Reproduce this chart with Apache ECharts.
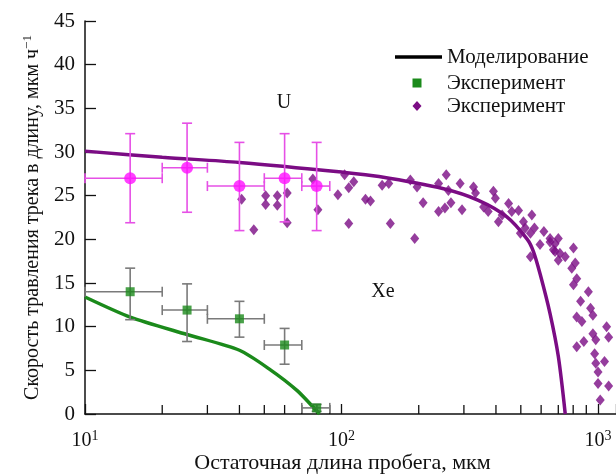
<!DOCTYPE html>
<html>
<head>
<meta charset="utf-8">
<script src="https://cdn.jsdelivr.net/npm/echarts@6/dist/echarts.min.js"></script>
<style>
  html, body { margin: 0; padding: 0; background: #fff; }
  #chart { width: 616px; height: 474px; }
</style>
</head>
<body>
<div id="chart"></div>
<script>
// Residual range (µm) vs. track etch rate (µm/h)
const xMinorTicks = [20, 30, 40, 50, 60, 70, 80, 90, 200, 300, 400, 500, 600, 700, 800, 900];
const yTicks = [0, 5, 10, 15, 20, 25, 30, 35, 40, 45];

// Simulation curves [range, rate]
const uModel = [[10, 30.1], [20, 29.4], [40, 28.8], [100, 27.7], [140, 27.2], [250, 25.8],
  [340, 24.5], [440, 22.6], [530, 20.0], [560, 18.6], [595, 16.0], [650, 11.5], [700, 6.6], [745, 0]];
const xeModel = [[10, 13.4], [15, 11.1], [25, 9.1], [40, 7.3], [52, 5.2], [67, 2.7], [82, 0]];

// Averaged experimental points with error ranges
const uExp = [[15, 27.0], [25, 28.2], [40, 26.1], [60, 27.0], [80, 26.1]];
const uExpX = [[10, 20], [20, 30], [30, 50], [50, 70], [70, 90]];
const uExpY = [[21.9, 32.1], [23.1, 33.3], [21.0, 31.1], [22.0, 32.1], [21.0, 31.1]];

const xeExp = [[15, 14.0], [25, 11.9], [40, 10.9], [60, 7.9], [80, 0.7]];
const xeExpX = [[10, 20], [20, 30], [30, 50], [50, 70], [70, 90]];
const xeExpY = [[10.8, 16.7], [8.3, 14.9], [8.8, 12.9], [5.7, 9.8], [0.3, 1.1]];

// Individual U track measurements
const uTracks = [
  [40.8, 24.6], [45.5, 21.1], [50.6, 25.0], [50.6, 24.0], [56.2, 25.0], [56.2, 23.9], [61.4, 25.3],
  [61.4, 21.9], [77.3, 26.9], [80.9, 23.4], [96.8, 25.1], [102.8, 27.4], [106.7, 25.9], [106.7, 21.8],
  [111.6, 26.6], [124, 24.6], [129.7, 24.4], [144, 26.2], [152.8, 26.4], [155, 21.8], [185.5, 26.8],
  [197, 26.0], [192.9, 20.1], [208, 24.2], [239, 26.4], [256, 27.4], [261, 25.6], [267, 24.2],
  [239, 23.2], [253, 23.6], [295, 23.4], [290, 26.4], [327, 26.0], [333, 25.3], [358, 23.7],
  [373, 23.2], [391, 25.5], [398, 24.7], [409, 22.0], [423, 22.8], [448, 24.1], [461, 23.2],
  [490, 23.3], [512, 22.0], [552, 22.8], [520, 21.3], [545, 20.7], [565, 21.3], [594, 19.4],
  [615, 20.9], [650, 20.1], [680, 19.5], [700, 20.1], [670, 18.8], [710, 18.4], [745, 18.0],
  [802, 19.0], [545, 18.0], [815, 17.3], [498, 20.7], [650, 19.7], [680, 18.6], [700, 17.6],
  [790, 16.7], [826, 15.5], [802, 14.8], [917, 14.0], [855, 12.9], [935, 12.1], [826, 11.1],
  [865, 10.6], [955, 11.3], [955, 9.2], [880, 8.3], [826, 7.7], [980, 8.5], [970, 6.9], [980, 5.8],
  [1000, 4.8], [1000, 3.5], [1020, 1.6], [1080, 10.0], [1100, 8.8], [1060, 6.0], [1100, 3.2]
];

const FONT = 'Liberation Serif';
const TXT = '#111';
const U_COLOR = '#7b0c84';
const XE_COLOR = '#1b8a1b';

function errorData(points, xr, yr) {
  return points.map((p, i) => [p[0], p[1], xr[i][0], xr[i][1], yr[i][0], yr[i][1]]);
}

function errorBars(color, cap) {
  return function (params, api) {
    const x = api.value(0), y = api.value(1);
    const c = api.coord([x, y]);
    const xl = api.coord([api.value(2), y])[0];
    const xh = api.coord([api.value(3), y])[0];
    const yl = api.coord([x, api.value(4)])[1];
    const yh = api.coord([x, api.value(5)])[1];
    const st = { stroke: color, lineWidth: 1.6 };
    return {
      type: 'group',
      children: [
        { type: 'line', shape: { x1: xl, y1: c[1], x2: xh, y2: c[1] }, style: st },
        { type: 'line', shape: { x1: xl, y1: c[1] - cap, x2: xl, y2: c[1] + cap }, style: st },
        { type: 'line', shape: { x1: xh, y1: c[1] - cap, x2: xh, y2: c[1] + cap }, style: st },
        { type: 'line', shape: { x1: c[0], y1: yl, x2: c[0], y2: yh }, style: st },
        { type: 'line', shape: { x1: c[0] - cap, y1: yl, x2: c[0] + cap, y2: yl }, style: st },
        { type: 'line', shape: { x1: c[0] - cap, y1: yh, x2: c[0] + cap, y2: yh }, style: st }
      ]
    };
  };
}

const chart = echarts.init(document.getElementById('chart'), null, { renderer: 'canvas' });

const option = {
  backgroundColor: '#fff',
  animation: false,
  grid: { left: 85, right: 0, top: 21, bottom: 60, containLabel: false, outerBoundsMode: 'none' },
  xAxis: {
    type: 'log',
    logBase: 10,
    min: 10,
    max: 1175,
    name: 'Остаточная длина пробега, мкм',
    nameLocation: 'middle',
    nameMoveOverlap: false,
    nameGap: 38,
    nameTextStyle: { fontFamily: FONT, fontSize: 22, color: TXT, padding: [0, 16, 0, 0] },
    axisLine: { lineStyle: { color: TXT, width: 1.5 } },
    axisTick: { inside: true, length: 10, lineStyle: { color: TXT, width: 1.3 } },
    splitLine: { show: false },
    axisLabel: {
      margin: 15,
      fontFamily: FONT,
      fontSize: 20,
      color: TXT,
      formatter: function (v) {
        const e = Math.round(Math.log10(v));
        if (Math.abs(Math.pow(10, e) - v) > 1e-6 * v) return '';
        return '10{sup|' + e + '}';
      },
      rich: { sup: { fontFamily: FONT, fontSize: 14, color: TXT, verticalAlign: 'top', padding: [0, 0, 10, 0] } }
    }
  },
  yAxis: {
    type: 'value',
    min: 0,
    max: 45,
    interval: 5,
    name: 'Скорость травления трека в длину, мкм ч{sup|−1}',
    nameLocation: 'middle',
    nameMoveOverlap: false,
    nameGap: 41,
    nameRotate: 90,
    nameTextStyle: {
      fontFamily: FONT, fontSize: 20, color: TXT,
      rich: { sup: { fontFamily: FONT, fontSize: 13, color: TXT, padding: [0, 0, 10, 0] } }
    },
    axisLine: { show: true, lineStyle: { color: TXT, width: 1.5 } },
    axisTick: { show: true, inside: true, length: 11, lineStyle: { color: TXT, width: 1.3 } },
    splitLine: { show: false },
    axisLabel: {
      margin: 10, fontFamily: FONT, fontSize: 21, color: TXT,
      formatter: function (v) { return yTicks.indexOf(v) >= 0 ? String(v) : ''; }
    }
  },
  series: [
    {
      name: 'minor-ticks',
      type: 'custom',
      silent: true,
      data: xMinorTicks.map(v => [v, 0]),
      renderItem: function (params, api) {
        const p = api.coord([api.value(0), 0]);
        return { type: 'line', shape: { x1: p[0], y1: p[1], x2: p[0], y2: p[1] - 9 }, style: { stroke: TXT, lineWidth: 1.3 } };
      },
      z: 1
    },
    {
      name: 'U tracks',
      type: 'scatter',
      data: uTracks,
      symbol: 'diamond',
      symbolSize: [9, 11],
      itemStyle: { color: U_COLOR },
      z: 2
    },
    {
      name: 'U model',
      type: 'line',
      data: uModel,
      smooth: 0.3,
      symbol: 'none',
      lineStyle: { color: U_COLOR, width: 3.5 },
      z: 3
    },
    {
      name: 'Xe model',
      type: 'line',
      data: xeModel,
      smooth: 0.25,
      symbol: 'none',
      lineStyle: { color: XE_COLOR, width: 3.5 },
      z: 3
    },
    {
      name: 'U err',
      type: 'custom',
      data: errorData(uExp, uExpX, uExpY),
      renderItem: errorBars('#e650e6', 5),
      z: 4
    },
    {
      name: 'U exp',
      type: 'scatter',
      data: uExp,
      symbol: 'circle',
      symbolSize: 12,
      itemStyle: { color: '#ff10ff' },
      z: 5
    },
    {
      name: 'Xe err',
      type: 'custom',
      data: errorData(xeExp, xeExpX, xeExpY),
      renderItem: errorBars('#7a7a7a', 5),
      z: 4
    },
    {
      name: 'Xe exp',
      type: 'scatter',
      data: xeExp,
      symbol: 'rect',
      symbolSize: 9,
      itemStyle: { color: XE_COLOR },
      z: 5
    }
  ],
  graphic: [
    { type: 'line', shape: { x1: 395, y1: 57, x2: 442, y2: 57 }, style: { stroke: '#000', lineWidth: 3.5 } },
    { type: 'text', x: 447, y: 57, style: { text: 'Моделирование', font: '21px "Liberation Serif"', fill: TXT, verticalAlign: 'middle' } },
    { type: 'rect', shape: { x: 412.5, y: 78.5, width: 9, height: 9 }, style: { fill: XE_COLOR } },
    { type: 'text', x: 447, y: 83, style: { text: 'Эксперимент', font: '21px "Liberation Serif"', fill: TXT, verticalAlign: 'middle' } },
    { type: 'polygon', shape: { points: [[417, 101], [421.5, 106], [417, 111], [412.5, 106]] }, style: { fill: U_COLOR } },
    { type: 'text', x: 447, y: 106, style: { text: 'Эксперимент', font: '21px "Liberation Serif"', fill: TXT, verticalAlign: 'middle' } },
    { type: 'text', x: 284, y: 103, style: { text: 'U', font: '20px "Liberation Serif"', fill: TXT, align: 'center', verticalAlign: 'middle' } },
    { type: 'text', x: 383, y: 292, style: { text: 'Xe', font: '20px "Liberation Serif"', fill: TXT, align: 'center', verticalAlign: 'middle' } }
  ]
};

chart.setOption(option);
</script>
</body>
</html>
